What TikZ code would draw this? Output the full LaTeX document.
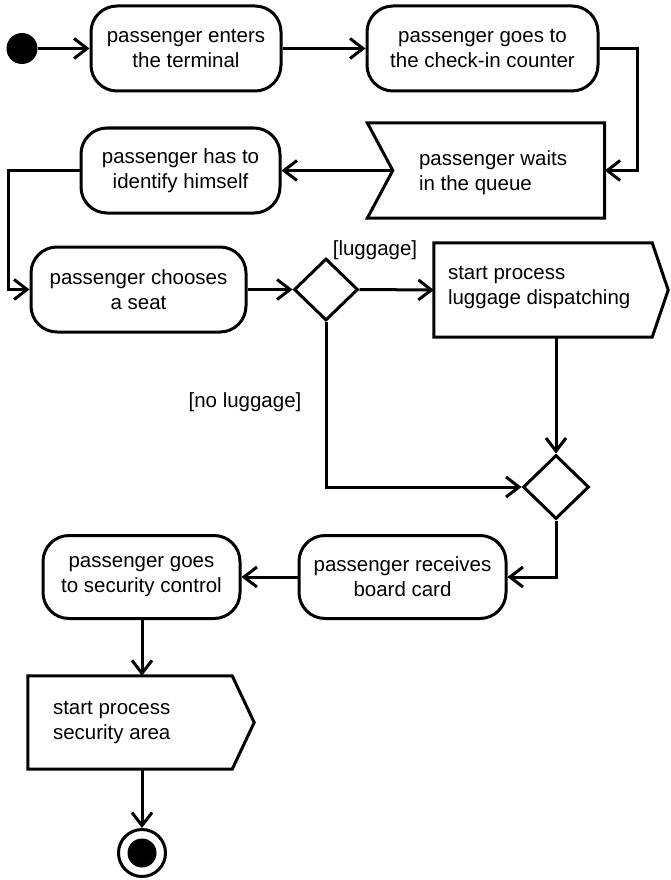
\documentclass[tikz,border=0pt]{standalone}
\usepackage{fontspec}
\setmainfont{Liberation Sans}
\usetikzlibrary{arrows.meta,shapes.geometric,calc}

\tikzset{
  every node/.style={font=\fontsize{20.5}{25}\selectfont},
  outline/.style={line width=3pt, line join=miter},
  action/.style={draw, outline, rounded corners=26pt, align=center, inner sep=0pt, minimum height=85pt},
  frame/.style={inner sep=0pt},
  inset/.style={anchor=west, align=left, inner sep=0pt},
  decision/.style={draw, outline, diamond, inner sep=0pt, aspect=1},
  flow/.style={line width=3pt, -{Straight Barb[length=13pt,width=20pt,line width=3pt]}},
  guard/.style={inner sep=0pt}
}

\begin{document}
\begin{tikzpicture}[x=1pt,y=-1pt]
\useasboundingbox (0,0) rectangle (670,880);

% initial node
\node[circle, fill=black, minimum size=31pt, inner sep=0pt] (start) at (22,48.5) {};

% first row
\node[action, minimum width=190pt] (a) at (186,48.5) {passenger enters\\the terminal};
\node[action, minimum width=231pt] (b) at (482.5,48.5) {passenger goes to\\the check-in counter};

% accept-event box with the notch on its left side
\node[frame, minimum width=237pt, minimum height=95pt] (cq) at (486,170.5) {};
\coordinate (cqtip) at ($(cq.west)+(25.5,0)$);
\draw[outline] (cq.north west) -- (cq.north east) -- (cq.south east) -- (cq.south west) -- (cqtip) -- cycle;
\node[inset] (cqtext) at ($(cq.west)+(51.5,2)$) {passenger waits\\in the queue};

\node[action, minimum width=199pt] (d) at (180.5,170.5) {passenger has to\\identify himself};
\node[action, minimum width=215pt] (e) at (138.5,289.5) {passenger chooses\\a seat};

\node[decision, minimum width=64pt, minimum height=62pt] (dec1) at (326,289.5) {};

% send-signal box for luggage
\node[frame, minimum width=218pt, minimum height=94pt] (f) at (543,290) {};
\coordinate (ftip) at ($(f.east)+(16,0)$);
\draw[outline] (f.north west) -- (f.north east) -- (ftip) -- (f.south east) -- (f.south west) -- cycle;
\node[inset] (ftext) at ($(f.west)+(14,-3)$) {start process\\luggage dispatching};

\node[decision, minimum width=66pt, minimum height=64pt] (dec2) at (556,487) {};

\node[action, minimum width=207pt, minimum height=83pt] (g) at (402.5,577) {passenger receives\\board card};
\node[action, minimum width=197pt, minimum height=83pt] (h) at (141.5,577) {passenger goes\\to security control};

% send-signal box for security
\node[frame, minimum width=204pt, minimum height=93pt] (i) at (130,722.5) {};
\coordinate (itip) at ($(i.east)+(22,0)$);
\draw[outline] (i.north west) -- (i.north east) -- (itip) -- (i.south east) -- (i.south west) -- cycle;
\node[inset] (itext) at ($(i.west)+(25,0)$) {start process\\security area};

% final node
\node[circle, draw, line width=3pt, minimum size=47pt, inner sep=0pt] (end) at (142,853) {};
\fill (end.center) circle (14.5pt);

% guards
\node[guard] (lg) at (375,250) {[luggage]};
\node[guard] (nlg) at (245,402) {[no luggage]};

% control flow
\coordinate (r1) at (637,170.5);
\coordinate (l1) at (8,170.5);
\draw[flow] (start) -- (a);
\draw[flow] (a) -- (b);
\draw[flow] (b.east) -| (r1) -- (cq.east);
\draw[flow] (cqtip) -- (d.east);
\draw[flow] (d.west) -- (l1) |- (e.west);
\draw[flow] (e.east) -- (dec1.west);
\draw[flow] (dec1.east) -- (f.west);
\draw[flow] (f.south -| dec2.north) -- (dec2.north);
\draw[flow] (dec1.south) |- (dec2.west);
\draw[flow] (dec2.south) |- (g.east);
\draw[flow] (g.west) -- (h.east);
\draw[flow] (h.south -| end.north) -- (i.north -| end.north);
\draw[flow] (i.south -| end.north) -- (end.north);
\end{tikzpicture}
\end{document}
